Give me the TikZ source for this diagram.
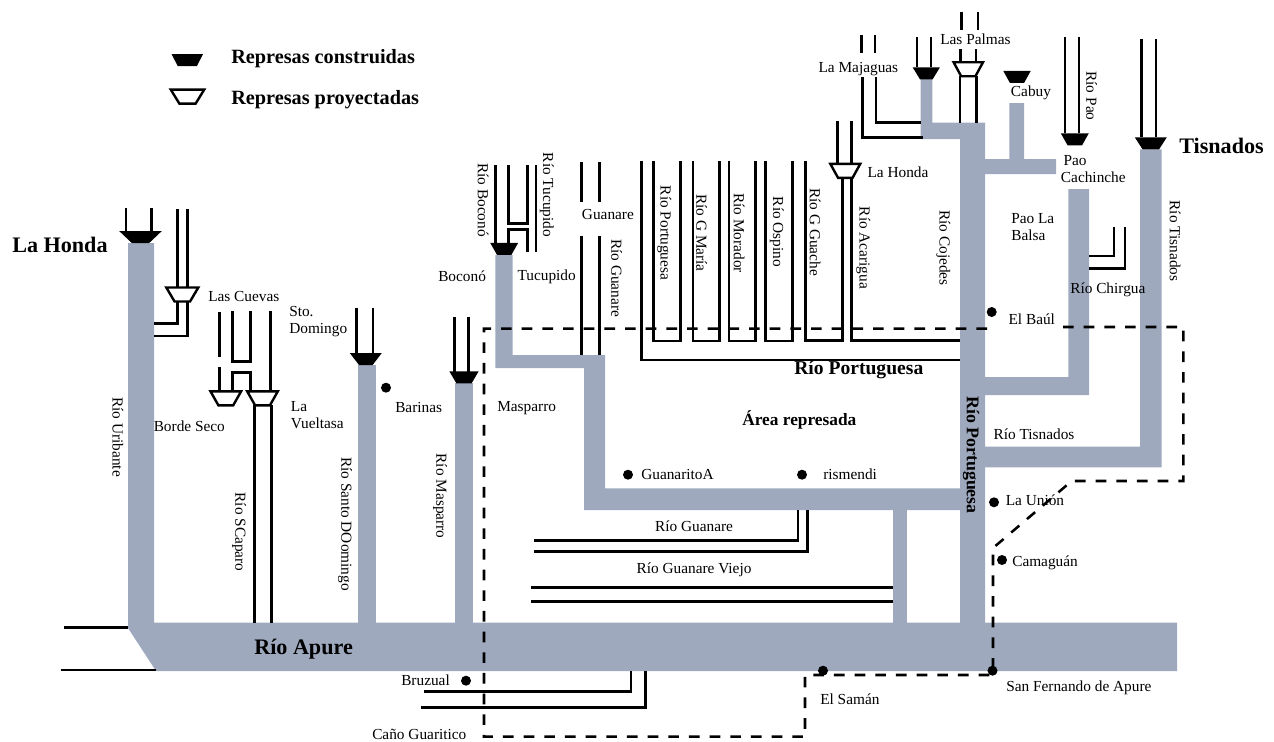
\documentclass[tikz,border=0pt]{standalone}
\usepackage{fontspec}
\setmainfont{Liberation Serif}
\definecolor{water}{RGB}{158, 169, 190}
\usetikzlibrary{shapes.geometric}

\begin{document}
\begin{tikzpicture}[
        x=0.75pt, y=-0.75pt,
        every node/.style={inner sep=0pt, align=left, font=\fontsize{11.5}{12.8}\selectfont},
        river/.style={fill=water},
        canal/.style={draw=black, line width=2pt},
        limit/.style={draw=black, line width=1.9pt, dash pattern=on 8pt off 7.5pt},
        built/.style={trapezium, shape border rotate=180, trapezium stretches=true, trapezium angle=65, fill=black, inner sep=1pt, minimum height=9pt},
        planned/.style={trapezium, shape border rotate=180, trapezium stretches=true, trapezium angle=62, draw=black, line width=1.8pt, fill=white, inner sep=1pt, minimum height=10.5pt},
        town/.style={circle, fill=black, minimum size=7.5pt},
        lab/.style={anchor=west},
        vlab/.style={rotate=-90},
        head/.style={anchor=west, font=\fontsize{15.2}{17}\selectfont\bfseries},
        big/.style={anchor=west, font=\fontsize{16.6}{18}\selectfont\bfseries}
    ]
        \useasboundingbox (0,0) rectangle (1274,742);

        % Rios principales
        \fill[river] (128,243) -- (154,243) -- (154,622.7) -- (1177,622.7) -- (1177,671) -- (156,671) -- (128,628) -- cycle;
        \fill[river] (358,365) rectangle (376,623);
        \fill[river] (455.3,383) rectangle (473,623);
        \fill[river] (495.3,255) -- (512.7,255) -- (512.7,355) -- (605,355) -- (605,488.3) -- (960,488.3) -- (960,510) -- (584,510) -- (584,368) -- (495.3,368) -- cycle;
        \fill[river] (893.3,510) rectangle (907,623);
        \fill[river] (920.7,79) -- (932.3,79) -- (932.3,122.7) -- (985,122.7) -- (985,623) -- (960,623) -- (960,139) -- (920.7,139) -- cycle;
        \fill[river] (985,159) -- (1009.3,159) -- (1009.3,103) -- (1024,103) -- (1024,159) -- (1056,159) -- (1056,174) -- (985,174) -- cycle;
        \fill[river] (1068.3,189) -- (1089,189) -- (1089,395) -- (985,395) -- (985,377) -- (1068.3,377) -- cycle;
        \fill[river] (1140,149.3) -- (1161.7,149.3) -- (1161.7,467.3) -- (985,467.3) -- (985,446.7) -- (1140,446.7) -- cycle;

        % Canales izquierda
        \draw[canal] (126,208) -- (126,231);
        \draw[canal] (151.7,208) -- (151.7,231);
        \draw[canal] (177.3,209) -- (177.3,323.3) -- (154,323.3);
        \draw[canal] (187.3,209) -- (187.3,336) -- (154,336);
        \draw[canal] (219.3,311.7) -- (219.3,356.7);
        \draw[canal] (219.3,366.7) -- (219.3,391.7);
        \draw[canal] (232.3,311) -- (232.3,361.7) -- (250.7,361.7) -- (250.7,311);
        \draw[canal] (232.3,391.7) -- (232.3,372.3) -- (250.7,372.3) -- (250.7,391.7);
        \draw[canal] (270.7,311) -- (270.7,391.7);
        \draw[canal] (254.5,405) -- (254.5,623);
        \draw[canal] (271.3,405) -- (271.3,623);
        \draw[canal] (356.3,307.7) -- (356.3,353);
        \draw[canal] (373,307.7) -- (373,353);
        \draw[canal] (454.3,316.7) -- (454.3,372);
        \draw[canal] (468.3,316.7) -- (468.3,372);

        % Canales centro
        \draw[canal] (495.7,165) -- (495.7,243);
        \draw[canal] (508.7,165) -- (508.7,223.3) -- (527.3,223.3) -- (527.3,165);
        \draw[canal] (508.7,243) -- (508.7,229.3) -- (527.3,229.3) -- (527.3,251.7);
        \draw[canal] (536,165) -- (536,251.7);
        \draw[canal] (581.7,161.7) -- (581.7,202.3);
        \draw[canal] (599.3,161.7) -- (599.3,202.3);
        \draw[canal] (581.7,235.7) -- (581.7,355);
        \draw[canal] (599.3,235.7) -- (599.3,355);
        \draw[canal] (641.7,160.7) -- (641.7,360) -- (960,360);
        \draw[canal] (653.7,160.7) -- (653.7,341) -- (680.3,341) -- (680.3,160.7);
        \draw[canal] (693,160.7) -- (693,341) -- (719.3,341) -- (719.3,160.7);
        \draw[canal] (729,160.7) -- (729,341) -- (755.3,341) -- (755.3,160.7);
        \draw[canal] (765.7,160.7) -- (765.7,341) -- (792.3,341) -- (792.3,160.7);
        \draw[canal] (805.3,160.7) -- (805.3,340.7) -- (842.3,340.7) -- (842.3,177.7);
        \draw[canal] (851.7,177.7) -- (851.7,340.7) -- (960,340.7);
        \draw[canal] (837.3,120.7) -- (837.3,164);
        \draw[canal] (851.7,120.7) -- (851.7,164);

        % Canales derecha
        \draw[canal] (861.7,35) -- (861.7,53.3);
        \draw[canal] (875,35) -- (875,53.3);
        \draw[canal] (862.3,77.3) -- (862.3,137.3) -- (922.7,137.3);
        \draw[canal] (876,77.3) -- (876,122.7) -- (920.7,122.7);
        \draw[canal] (917,37.3) -- (917,67.3);
        \draw[canal] (931,37.3) -- (931,67.3);
        \draw[canal] (961.7,11.7) -- (961.7,30);
        \draw[canal] (978,11.7) -- (978,30);
        \draw[canal] (960.3,49.3) -- (960.3,62.7);
        \draw[canal] (976,49.3) -- (976,62.7);
        \draw[canal] (960,76) -- (960,122.7);
        \draw[canal] (976.7,76) -- (976.7,122.7);
        \draw[canal] (1065,36.7) -- (1065,133.3);
        \draw[canal] (1079,36.7) -- (1079,133.3);
        \draw[canal] (1141.7,39.3) -- (1141.7,137.3);
        \draw[canal] (1156,39.3) -- (1156,137.3);
        \draw[canal] (1114,227.3) -- (1114,256) -- (1089,256);
        \draw[canal] (1125,227.3) -- (1125,268.7) -- (1089,268.7);

        % Canales abajo
        \draw[canal] (798,510) -- (798,540.3) -- (534,540.3);
        \draw[canal] (807.6,510) -- (807.6,551.7) -- (534,551.7);
        \draw[canal] (531.4,587.3) -- (893.3,587.3);
        \draw[canal] (531.4,601.7) -- (893.3,601.7);
        \draw[canal] (631,671) -- (631,691.7) -- (424,691.7);
        \draw[canal] (645.7,671) -- (645.7,707.3) -- (421.3,707.3);
        \draw[canal] (64,627.7) -- (128,627.7);
        \draw[canal] (60.7,670) -- (156,670);

        % Limite del area
        \draw[limit] (1063,327) -- (1183.3,327) -- (1183.3,481) -- (1071.7,481) -- (993,548) -- (993,675) -- (805,675) -- (805,736.7) -- (484,736.7) -- (484,328.7) -- (997,328.7);

        % Represas
        \node[built, trapezium angle=72, minimum width=23.5pt] (legbuilt) at (187.3,60.2) {};
        \node[planned, minimum width=25pt] (legplanned) at (187.5,96.7) {};
        \node[built, trapezium angle=54, minimum width=32pt] (dhonda) at (140.5,237) {};
        \node[planned, minimum width=24pt] (dcuevas) at (182.3,294.5) {};
        \node[planned, minimum width=23pt] (dborde) at (225.8,398.3) {};
        \node[planned, minimum width=23pt] (dvuelta) at (262.5,398.3) {};
        \node[built, trapezium angle=56, minimum width=24pt] (dsto) at (365.8,359) {};
        \node[built, minimum width=22pt] (dmasp) at (464,377.3) {};
        \node[built, minimum width=21pt] (dboco) at (504.2,248.8) {};
        \node[planned, minimum width=22.5pt] (dlahonda) at (845.3,170.8) {};
        \node[built, trapezium angle=60, minimum width=20.5pt] (dmaja) at (926.3,73.3) {};
        \node[planned, minimum width=22pt] (dpalmas) at (968.3,69.3) {};
        \node[built, minimum width=20.5pt] (dcabuy) at (1017,77) {};
        \node[built, minimum width=21pt] (dpao) at (1074.8,139.3) {};
        \node[built, minimum width=24pt] (dtis) at (1150.8,143.3) {};

        % Poblaciones
        \node[town] (pbaul) at (991.7,312) {};
        \node[town] (pbarinas) at (386,387.7) {};
        \node[town] (pguanarito) at (628,474.7) {};
        \node[town] (prismendi) at (802,474.7) {};
        \node[town] (punion) at (994,502.3) {};
        \node[town] (pcamaguan) at (1002,560) {};
        \node[town] (psaman) at (823,670.7) {};
        \node[town] (pfernando) at (992.5,670.7) {};
        \node[town] (pbruzual) at (466,680.7) {};

        % Leyenda y titulos
        \node[head] (tbuilt) at (231,59) {Represas construidas};
        \node[head] (tplanned) at (231,100) {Represas proyectadas};
        \node[big] (tlahonda) at (12,245) {La Honda};
        \node[big] (ttisnados) at (1179,146) {Tisnados};
        \node[big] (tapure) at (254,649) {Río Apure};
        \node[head, font=\fontsize{14.7}{16}\selectfont\bfseries] (tportu) at (794,370) {Río Portuguesa};
        \node[head, font=\fontsize{13}{15}\selectfont\bfseries] (tarea) at (742,420) {Área represada};
        \node[rotate=-90, font=\fontsize{13.4}{15}\selectfont\bfseries] (tportuv) at (971,455) {Río Portuguesa};

        % Nombres
        \node[lab] (ncuevas) at (208,296) {Las Cuevas};
        \node[lab] (nsto) at (289,322) {Sto.\\Domingo};
        \node[lab] (nvuelta) at (290.7,415) {La\\Vueltasa};
        \node[lab] (nborde) at (153.5,426) {Borde Seco};
        \node[lab] (nbarinas) at (395,407) {Barinas};
        \node[lab] (nmasp) at (497,408) {Masparro};
        \node[lab] (nboco) at (438,276) {Boconó};
        \node[lab] (ntucu) at (517.3,277) {Tucupido};
        \node[lab] (nguan) at (581.7,214) {Guanare};
        \node[lab] (nhonda) at (867.3,172) {La Honda};
        \node[lab] (nmaja) at (818.3,69) {La Majaguas};
        \node[lab] (npalmas) at (940,39) {Las Palmas};
        \node[lab] (ncabuy) at (1010.7,93) {Cabuy};
        \node[lab, align=left] (ncachi) at (1060.7,169) {\hspace{2pt}Pao\\Cachinche};
        \node[lab] (nbalsa) at (1011,227) {Pao La\\Balsa};
        \node[lab] (nchir) at (1070,290) {Río Chirgua};
        \node[lab] (nbaul) at (1008.3,319) {El Baúl};
        \node[lab] (ntis) at (993.3,434) {Río Tisnados};
        \node[lab] (nguanarito) at (641,474) {GuanaritoA};
        \node[lab] (nrismendi) at (823,474) {rismendi};
        \node[lab] (nunion) at (1005.5,500) {La Unión};
        \node[lab] (ncama) at (1012,563) {Camaguán};
        \node (nriog) at (694,526) {Río Guanare};
        \node (nriov) at (694,570) {Río Guanare Viejo};
        \node[lab] (nsaman) at (820,699) {El Samán};
        \node[lab] (nfern) at (1006,688) {San Fernando de Apure};
        \node[lab] (nbruz) at (401,680) {Bruzual};
        \node[lab] (ncano) at (372,734) {Caño Guaritico};

        % Rios verticales
        \node[vlab] (vuri) at (118,437) {Río Uribante};
        \node[vlab] (vcap) at (239,532) {Río SCaparo};
        \node[vlab] (vsto) at (345,524) {Río Santo DOomingo};
        \node[vlab] (vmasp) at (440,496) {Río Masparro};
        \node[vlab] (vboco) at (483,200) {Río Boconó};
        \node[vlab] (vtucu) at (546.7,195) {Río Tucupido};
        \node[vlab] (vguan) at (616.7,278) {Río Guanare};
        \node[vlab] (vportu) at (664.3,233) {Río Portuguesa};
        \node[vlab] (vmaria) at (701.7,233) {Río G María};
        \node[vlab] (vmora) at (739,233) {Río Morador};
        \node[vlab] (vosp) at (776.7,232) {Río Ospino};
        \node[vlab] (vgua) at (815,232) {Río G Guache};
        \node[vlab] (vaca) at (863.3,248) {Río Acarigua};
        \node[vlab] (vcoj) at (943.3,248) {Río Cojedes};
        \node[vlab] (vpao) at (1091.7,96) {Río Pao};
        \node[vlab] (vtis) at (1175,241) {Río Tisnados};
    \end{tikzpicture}
\end{document}
